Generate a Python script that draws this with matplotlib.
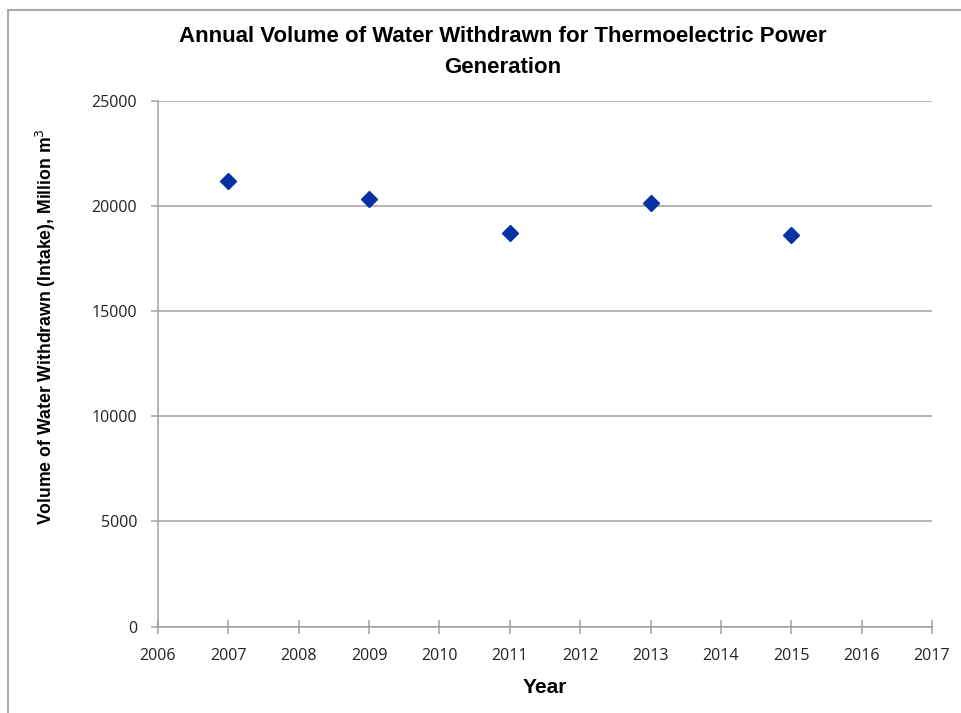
import matplotlib.pyplot as plt
from matplotlib.lines import Line2D

# Values
years = [2007, 2009, 2011, 2013, 2015]
volume = [21200, 20300, 18700, 20150, 18600]
xticks = list(range(2006, 2018))
yticks = [0, 5000, 10000, 15000, 20000, 25000]

fig = plt.figure(figsize=(9.62, 7.13), dpi=100)
ax = fig.add_axes([0.1642, 0.121, 0.8046, 0.738])

ax.plot(years, volume, linestyle='none', marker='D', markersize=8.5,
        color='#0531a3', markeredgecolor='#0531a3')

ax.set_xlim(2006, 2017)
ax.set_ylim(0, 25000)
ax.set_xticks(xticks)
ax.set_yticks(yticks)
ax.set_xticklabels([str(t) for t in xticks], family='Open Sans', fontsize=11.5, color='#222222')
ax.set_yticklabels([str(t) for t in yticks], family='Open Sans', fontsize=11.5, color='#222222')

# horizontal gridlines only
ax.grid(axis='y', color='#a0a0a0', linewidth=1.1)
ax.set_axisbelow(True)
for side in ['top', 'right']:
    ax.spines[side].set_visible(False)
for side in ['left', 'bottom']:
    ax.spines[side].set_color('#a0a0a0')
    ax.spines[side].set_linewidth(1.1)
ax.tick_params(axis='y', direction='out', length=5, color='#a0a0a0', width=1.1, pad=10)
ax.tick_params(axis='x', direction='inout', length=10, color='#a0a0a0', width=1.1, pad=10)

ax.set_xlabel('Year', family='Liberation Sans', fontweight='bold', fontsize=15)
ax.xaxis.set_label_coords(0.5, -0.097)
ax.set_ylabel('Volume of Water Withdrawn (Intake), Million m$^3$', family='Liberation Sans',
              fontweight='bold', fontsize=12.7)
ax.yaxis.set_label_coords(-0.129, 0.57)
fig.text(0.523, 0.927, 'Annual Volume of Water Withdrawn for Thermoelectric Power\nGeneration',
         ha='center', va='center', family='Liberation Sans', fontweight='bold',
         fontsize=16, linespacing=1.6)

# frame of the original screenshot (top and left edges)
fig.add_artist(Line2D([8 / 962, 8 / 962], [0, 1 - 10 / 713], transform=fig.transFigure,
                      color='#aaaaaa', linewidth=1.5))
fig.add_artist(Line2D([8 / 962, 1], [1 - 10 / 713, 1 - 10 / 713], transform=fig.transFigure,
                      color='#aaaaaa', linewidth=1.5))

fig.savefig('out.png', dpi=100)
